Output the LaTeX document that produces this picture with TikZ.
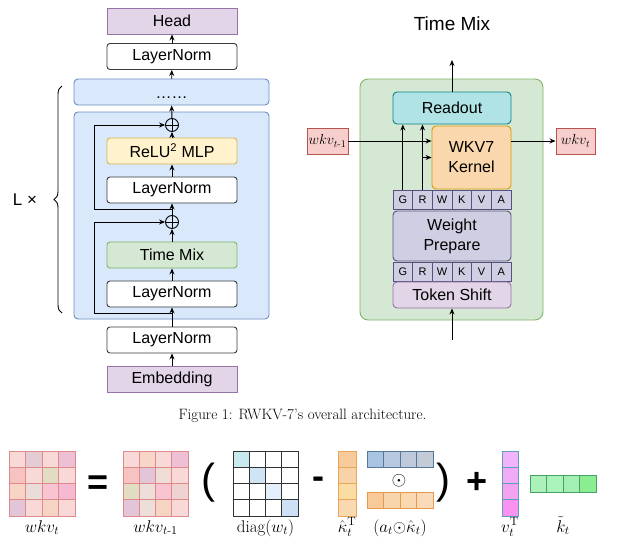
\RequirePackage{fix-cm}
\documentclass[tikz,border=0pt]{standalone}
\usepackage{amsmath}
\usepackage{fontspec}
\newfontfamily\arial{Liberation Sans}
\usetikzlibrary{arrows.meta,decorations.pathreplacing,calc}
\newcommand\myfs[1]{\fontsize{#1}{#1}\selectfont}
\definecolor{purF}{HTML}{E1D5E7}\definecolor{purL}{HTML}{9673A6}
\definecolor{bluF}{HTML}{DAE8FC}\definecolor{bluL}{HTML}{6C8EBF}
\definecolor{yelF}{HTML}{FFF2CC}\definecolor{yelL}{HTML}{D6B656}
\definecolor{grnF}{HTML}{D5E8D4}\definecolor{grnL}{HTML}{82B366}
\definecolor{tealF}{HTML}{B0E3E6}\definecolor{tealL}{HTML}{0E8088}
\definecolor{oraF}{HTML}{FAD7AC}\definecolor{oraL}{HTML}{D79B00}
\definecolor{redF}{HTML}{F8CECC}\definecolor{redL}{HTML}{B85450}
\definecolor{lavF}{HTML}{D0CEE2}\definecolor{lavL}{HTML}{56517E}
\definecolor{gryL}{HTML}{36393D}
\definecolor{mRed}{HTML}{DD8A8A}\definecolor{mBlk}{HTML}{333333}
\definecolor{mOra}{HTML}{E9A656}\definecolor{mBlu}{HTML}{55779B}
\definecolor{mOrb}{HTML}{E39A4E}\definecolor{mTea}{HTML}{5FA0B8}
\definecolor{mGrn}{HTML}{48A064}
\newcommand\cellstrip[7]{\foreach \cc [count=\ii from 0] in {#7} {%
  \pgfmathtruncatemacro\cx{mod(\ii,#5)}\pgfmathtruncatemacro\cy{\ii/#5}%
  \definecolor{tmpc}{HTML}{\cc}%
  \draw[draw=#6, fill=tmpc, line width=0.7pt] ({#1+#3*\cx},{#2+#4*\cy}) rectangle ++(#3,#4);}}
\begin{document}
\begin{tikzpicture}[x=1pt,y=-1pt,
  arr/.style={-{Stealth[length=6pt,width=5pt]}, line width=0.9pt},
  blk/.style={draw=gryL, fill=white, line width=0.9pt, rounded corners=3pt, minimum width=130pt, minimum height=26pt, inner sep=0pt, font=\arial\myfs{16}},
  purbox/.style={blk, draw=purL, fill=purF, rounded corners=0pt},
  plus/.style={circle, draw=black, line width=0.9pt, minimum size=13pt, inner sep=0pt,
    path picture={\draw[line width=0.8pt] (path picture bounding box.north) -- (path picture bounding box.south) (path picture bounding box.west) -- (path picture bounding box.east);}},
  rbox/.style={draw, line width=0.9pt, rounded corners=4pt, inner sep=0pt, font=\arial\myfs{16}, align=center},
  cellbox/.style={draw=lavL, fill=lavF, line width=0.7pt, minimum width=19.67pt, minimum height=19pt, inner sep=0pt, font=\arial\myfs{11}},
  wbox/.style={draw=redL, fill=redF, line width=0.9pt, minimum height=26pt, inner sep=0pt, font=\myfs{14.5}},
  sym/.style={font=\arial\bfseries\myfs{36}, inner sep=0pt},
  lab/.style={font=\myfs{17}, anchor=base, inner sep=0pt}]
\useasboundingbox (0,0) rectangle (635,546);

% ---------- left: overall architecture ----------
\node[draw=bluL, fill=bluF, line width=0.9pt, rounded corners=4pt, minimum width=195pt, minimum height=207pt] (layer) at (171.5,215.5) {};
\node[draw=bluL, fill=bluF, line width=0.9pt, rounded corners=4pt, minimum width=195pt, minimum height=26pt, inner sep=0pt, font=\arial\myfs{16}] (dots) at (171.5,92) {\smash{\raisebox{-6.5pt}{……}}};
\node[purbox] (head) at (172,21) {Head};
\node[blk] (ln1) at (172,56.5) {LayerNorm};
\node[plus] (c1) at (172,125) {};
\node[blk, draw=yelL, fill=yelF] (mlp) at (172,151) {ReLU\textsuperscript{2} MLP};
\node[blk] (ln2) at (172,190) {LayerNorm};
\node[plus] (c2) at (172,222) {};
\node[blk, draw=grnL, fill=grnF] (tm) at (172,255) {Time Mix};
\node[blk] (ln3) at (172,294) {LayerNorm};
\node[blk] (ln4) at (172,340) {LayerNorm};
\node[purbox] (emb) at (172,379) {Embedding};
\coordinate (j1) at (172,313);
\coordinate (r1) at (94,222);
\coordinate (j2) at (172,209);
\coordinate (r2) at (94,125);

\draw[arr] (emb) -- (ln4);
\draw[arr] (ln4) -- (ln3);
\draw[arr] (j1) -| (r1) -- (c2);
\draw[arr] (ln3) -- (tm);
\draw[arr] (tm) -- (c2);
\draw[arr] (c2) -- (ln2);
\draw[arr] (j2) -| (r2) -- (c1);
\draw[arr] (ln2) -- (mlp);
\draw[arr] (mlp) -- (c1);
\draw[arr] (c1) -- (dots);
\draw[arr] (dots) -- (ln1);
\draw[arr] (ln1) -- (head);

\draw[line width=0.9pt, decorate, decoration={brace, amplitude=8pt}] (62,313) -- (62,86);
\node[font=\arial\myfs{17}] (lx) at (25,200) {L ×};

% ---------- right: time mix ----------
\node[font=\arial\myfs{19}] (title) at (452,24) {Time Mix};
\node[draw=grnL, fill=grnF, line width=0.9pt, rounded corners=8pt, minimum width=183pt, minimum height=241pt] (green) at (451.5,199.5) {};
\node[rbox, draw=tealL, fill=tealF, minimum width=118pt, minimum height=32pt] (readout) at (452,108) {Readout};
\node[rbox, draw=oraL, fill=oraF, minimum width=79pt, minimum height=63pt, font=\arial\fontsize{16}{20}\selectfont] (kernel) at (471.5,157.5) {WKV7\\Kernel};
\foreach \l [count=\i from 0] in {G,R,W,K,V,A} {
  \node[cellbox] (ta\i) at ({402.83+19.67*\i},199.5) {\l};
  \node[cellbox] (tb\i) at ({402.83+19.67*\i},271.5) {\l};
}
\node[rbox, draw=lavL, fill=lavF, minimum width=118pt, minimum height=50pt, font=\arial\fontsize{16}{20}\selectfont] (wp) at (452,236) {Weight\\Prepare};
\node[rbox, draw=purL, fill=purF, minimum width=118pt, minimum height=26pt] (ts) at (452,295) {Token Shift};
\node[wbox, minimum width=41pt] (wprev) at (327.5,141) {$wkv_{t\text{-}1}$};
\node[wbox, minimum width=39pt] (wnext) at (575.5,141) {$wkv_t$};
\coordinate (tmout) at (452,60);
\coordinate (tmin) at (452,340);

\draw[arr] (readout) -- (tmout);
\draw[arr] (tmin) -- (ts);
\draw[arr] (wprev.east) -- (wprev.east -| kernel.west);
\draw[arr] (wnext.west -| kernel.east) -- (wnext.west);
\draw[arr] (ta0.north) -- (ta0.north |- readout.south);
\draw[arr] (ta1.north) -- (ta1.north |- readout.south);
\draw[arr] (ta1.north |- kernel.west) -- (kernel.west);

% ---------- caption ----------
\node[font=\myfs{15}] (cap) at (302.5,416) {Figure 1: RWKV-7's overall architecture.};

% ---------- equation ----------
\cellstrip{9}{451}{16.5}{16.25}{4}{mRed}{F9D9D8,E3CCD4,F9D9D8,EDC0D6,F6C3C1,F9D9D8,E2DCC2,F9D9D8,F7D4C4,EADDD9,F8C4D2,F5B9D2,E3C5D9,F9D9D8,F5D4C3,F9D9D8}
\cellstrip{123}{451}{16.25}{16.25}{4}{mRed}{F9D9D8,F7D5C8,F9D9D8,EDC0D6,F6C3C1,E3C5D9,EFDCD4,F9D9D8,E2DCC2,EDDED9,F8C4D2,F0D2D2,E3C5D9,EDDED9,F5D4C3,F9D9D8}
\cellstrip{233}{451}{16.25}{16.25}{4}{mBlk}{C8E9EE,FFFFFF,FFFFFF,FFFFFF,FFFFFF,CFE4F4,FFFFFF,FFFFFF,FFFFFF,FFFFFF,E4EFFB,FFFFFF,FFFFFF,FFFFFF,FFFFFF,CEE0F6}
\cellstrip{338}{451}{18}{16.25}{1}{mOra}{F8CB9C,F8D3AA,FBDDA4,FAD9B2}
\cellstrip{367}{451}{16.5}{16}{4}{mBlu}{A9C4E1,B7C9E1,C0C9DC,C3CBD7}
\cellstrip{367}{492}{16.5}{16}{4}{mOrb}{F8C999,F8D5AA,FAD9B1,FBDABA}
\cellstrip{502}{451}{16}{16.25}{1}{mTea}{F1B3F9,F1AAF5,F5A2F1,F992F1}
\cellstrip{530}{475}{16.5}{17}{4}{mGrn}{AAF1BA,AAF3B9,A2F1B2,8AED92}

\node[sym] (eq) at (98,485) {=};
\node[font=\arial\myfs{42}, inner sep=0pt] (lp) at (208,483) {(};
\node[sym] (mi) at (318,483) {-};
\node[font=\myfs{19}, inner sep=0pt] (od) at (399,481) {$\odot$};
\node[font=\arial\myfs{42}, inner sep=0pt] (rp) at (443,483) {)};
\node[sym] (pl) at (477,483) {+};

\node[lab] (l1) at (42,532) {$wkv_t$};
\node[lab] (l2) at (155.5,532) {$wkv_{t\text{-}1}$};
\node[lab] (l3) at (265.5,532) {$\mathrm{diag}(w_t)$};
\node[lab] (l4) at (347,532) {$\hat{\kappa}_t^{\mathrm{T}}$};
\node[lab] (l5) at (400,532) {$(a_t{\odot}\hat{\kappa}_t)$};
\node[lab] (l6) at (510,532) {$v_t^{\mathrm{T}}$};
\node[lab] (l7) at (563,532) {$\tilde{k}_t$};
\end{tikzpicture}
\end{document}
